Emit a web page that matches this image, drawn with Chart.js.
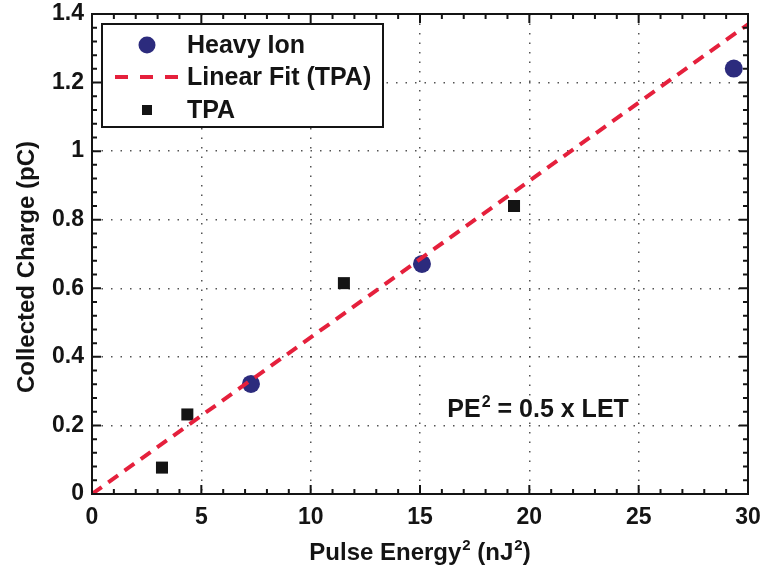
<!DOCTYPE html>
<html>
<head>
<meta charset="utf-8">
<script src="https://cdn.jsdelivr.net/npm/chart.js@4/dist/chart.umd.min.js"></script>
<style>
  html, body { margin: 0; padding: 0; background: #ffffff; }
  #wrap { width: 765px; height: 571px; position: relative; }
</style>
</head>
<body>
<div id="wrap"><canvas id="c" width="765" height="571"></canvas></div>
<script>
// ---- Data ----
const heavyIonX = [7.27, 15.09, 29.35];
const heavyIonY = [0.321, 0.671, 1.241];

const tpaX = [3.2, 4.36, 11.52, 19.3];
const tpaY = [0.077, 0.232, 0.615, 0.84];

const fitX = [0, 30];
const fitY = [0.0, 1.37];

const xTicks = [0, 5, 10, 15, 20, 25, 30];
const yTicks = [0, 0.2, 0.4, 0.6, 0.8, 1, 1.2, 1.4];

const seriesNames = ['Heavy Ion', 'Linear Fit (TPA)', 'TPA'];
const xTitleParts = [['Pulse Energy', false], ['2', true], [' (nJ', false], ['2', true], [')', false]];
const yTitle = 'Collected Charge (pC)';
const noteParts = [['PE', false], ['2', true], [' = 0.5 x LET', false]];
const notePos = [16.25, 0.25];

// ---- Styles ----
const FONT = '"Liberation Sans", Arial, Helvetica, sans-serif';
const NAVY = '#2c2b7d';
const RED = '#e5203c';
const BLACK = '#141414';

const toPts = (xs, ys) => xs.map((x, i) => ({ x: x, y: ys[i] }));

function drawParts(ctx, parts, x, y, size, align) {
  const supSize = Math.round(size * 0.62);
  let total = 0;
  const widths = parts.map(([t, sup]) => {
    ctx.font = 'bold ' + (sup ? supSize : size) + 'px ' + FONT;
    const w = ctx.measureText(t).width + (sup ? 1 : 0);
    total += w;
    return w;
  });
  let cx = align === 'center' ? x - total / 2 : x;
  ctx.textAlign = 'left';
  ctx.textBaseline = 'alphabetic';
  parts.forEach(([t, sup], i) => {
    ctx.font = 'bold ' + (sup ? supSize : size) + 'px ' + FONT;
    ctx.fillText(t, cx + (sup ? 1 : 0), sup ? y - size * 0.42 : y);
    cx += widths[i];
  });
}

const decorations = {
  id: 'decorations',
  afterDatasetsDraw(chart) {
    const ctx = chart.ctx;
    const ca = chart.chartArea;
    const xs = chart.scales.x, ys = chart.scales.y;
    ctx.save();
    ctx.fillStyle = BLACK;
    ctx.strokeStyle = BLACK;

    // annotation
    drawParts(ctx, noteParts, xs.getPixelForValue(notePos[0]), ys.getPixelForValue(notePos[1]) + 9, 25, 'left');

    // axis frame
    ctx.lineWidth = 2;
    ctx.strokeRect(ca.left, ca.top, ca.right - ca.left, ca.bottom - ca.top);

    // inward ticks
    ctx.lineWidth = 2;
    ctx.beginPath();
    for (let i = 0; i <= 30; i++) {
      const px = xs.getPixelForValue(xs.min + i * (xs.max - xs.min) / 30);
      const len = (i % 5 === 0) ? 9 : 5;
      ctx.moveTo(px, ca.bottom); ctx.lineTo(px, ca.bottom - len);
      ctx.moveTo(px, ca.top); ctx.lineTo(px, ca.top + len);
    }
    for (let i = 0; i <= 35; i++) {
      const py = ys.getPixelForValue(ys.min + i * (ys.max - ys.min) / 35);
      const len = (i % 5 === 0) ? 9 : 5;
      ctx.moveTo(ca.left, py); ctx.lineTo(ca.left + len, py);
      ctx.moveTo(ca.right, py); ctx.lineTo(ca.right - len, py);
    }
    ctx.stroke();

    // legend box
    const lx = ca.left + 10, ly = ca.top + 10, lw = 281, lh = 103;
    ctx.fillStyle = '#ffffff';
    ctx.fillRect(lx, ly, lw, lh);
    ctx.lineWidth = 2;
    ctx.strokeStyle = BLACK;
    ctx.strokeRect(lx, ly, lw, lh);

    const rows = [ly + 21, ly + 53, ly + 86];
    const mx = lx + 45, tx = lx + 85;
    // heavy ion marker
    ctx.fillStyle = NAVY;
    ctx.beginPath(); ctx.arc(mx, rows[0], 8.5, 0, Math.PI * 2); ctx.fill();
    // fit line sample
    ctx.strokeStyle = RED; ctx.lineWidth = 4;
    ctx.setLineDash([13, 12]);
    ctx.beginPath(); ctx.moveTo(lx + 13, rows[1]); ctx.lineTo(lx + 78, rows[1]); ctx.stroke();
    ctx.setLineDash([]);
    // tpa marker
    ctx.fillStyle = BLACK;
    ctx.fillRect(mx - 5, rows[2] - 5, 10, 10);

    ctx.fillStyle = BLACK;
    ctx.font = 'bold 25px ' + FONT;
    ctx.textAlign = 'left';
    ctx.textBaseline = 'middle';
    seriesNames.forEach((n, i) => ctx.fillText(n, tx, rows[i] + 1));

    // axis titles
    drawParts(ctx, xTitleParts, (ca.left + ca.right) / 2, 560, 24, 'center');
    ctx.save();
    ctx.translate(34, 267);
    ctx.rotate(-Math.PI / 2);
    ctx.font = 'bold 24px ' + FONT;
    ctx.textAlign = 'center';
    ctx.textBaseline = 'alphabetic';
    ctx.fillStyle = BLACK;
    ctx.fillText(yTitle, 0, 0);
    ctx.restore();

    ctx.restore();
  }
};

const gridColor = (ctx) => {
  const v = ctx.tick && ctx.tick.value;
  const s = ctx.scale;
  if (v === undefined || v <= s.min || v >= s.max) return 'rgba(0,0,0,0)';
  return 'rgba(40,40,40,0.8)';
};

new Chart(document.getElementById('c'), {
  type: 'scatter',
  data: {
    datasets: [
      {
        label: seriesNames[1],
        type: 'line',
        data: toPts(fitX, fitY),
        borderColor: RED,
        borderWidth: 4,
        borderDash: [12, 8],
        pointRadius: 0,
        fill: false,
        showLine: true,
        order: 0
      },
      {
        label: seriesNames[0],
        data: toPts(heavyIonX, heavyIonY),
        pointStyle: 'circle',
        pointRadius: 9,
        backgroundColor: NAVY,
        borderColor: NAVY,
        borderWidth: 0,
        order: 2
      },
      {
        label: seriesNames[2],
        data: toPts(tpaX, tpaY),
        pointStyle: 'rect',
        pointRadius: 8.5,
        backgroundColor: BLACK,
        borderColor: BLACK,
        borderWidth: 0,
        order: 1
      }
    ]
  },
  options: {
    responsive: false,
    animation: false,
    events: [],
    layout: { padding: { left: 0, right: 17, top: 14, bottom: 0 } },
    plugins: { legend: { display: false }, tooltip: { enabled: false } },
    scales: {
      x: {
        type: 'linear',
        min: 0, max: 30,
        afterBuildTicks: (s) => { s.ticks = xTicks.map(v => ({ value: v })); },
        afterFit: (s) => { s.height = 77; s.paddingLeft = 0; s.paddingRight = 0; },
        ticks: {
          color: BLACK,
          font: { family: FONT, size: 23, weight: 'bold' },
          padding: 10,
          maxRotation: 0,
          autoSkip: false,
          callback: (v) => String(v)
        },
        grid: { color: gridColor, lineWidth: 1.5, drawTicks: false },
        border: { display: false, dash: [1.5, 8] }
      },
      y: {
        type: 'linear',
        min: 0, max: 1.4,
        afterBuildTicks: (s) => { s.ticks = yTicks.map(v => ({ value: v })); },
        afterFit: (s) => { s.width = 92; s.paddingTop = 0; s.paddingBottom = 0; },
        ticks: {
          color: BLACK,
          font: { family: FONT, size: 23, weight: 'bold' },
          padding: 8,
          autoSkip: false,
          callback: (v) => String(v)
        },
        grid: { color: gridColor, lineWidth: 1.5, drawTicks: false },
        border: { display: false, dash: [1.5, 8] }
      }
    }
  },
  plugins: [decorations]
});
</script>
</body>
</html>
